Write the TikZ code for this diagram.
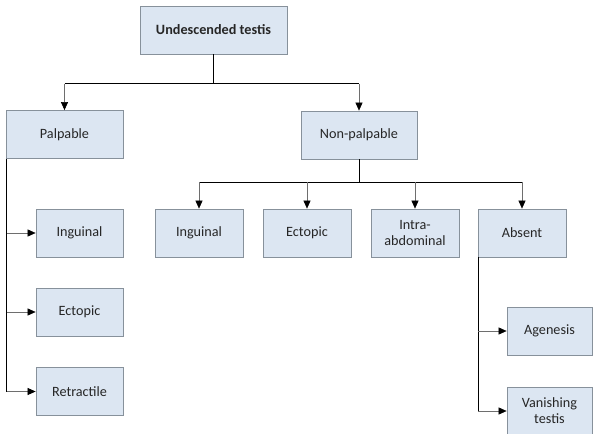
\documentclass[tikz,border=0pt]{standalone}
\usepackage{fontspec}
\setmainfont{Carlito}
\usetikzlibrary{arrows.meta,calc}
\definecolor{boxfill}{RGB}{220,230,242}
\definecolor{boxline}{RGB}{135,145,155}
\definecolor{stub}{RGB}{110,110,110}
\begin{document}
\begin{tikzpicture}[x=1pt,y=-1pt,
  box/.style={draw=boxline,fill=boxfill,line width=0.8pt,minimum height=48pt,
    align=center,inner sep=2pt,font=\fontsize{14.2}{16}\selectfont,text=black!85},
  trunk/.style={draw=black,line width=1pt},
  branch/.style={draw=stub,line width=0.6pt,-{Triangle[length=8pt,width=7pt,color=black]}}]
\useasboundingbox (0,0) rectangle (593,433);
% nodes
\node[box,minimum width=147pt,font=\fontsize{14.2}{16}\selectfont\bfseries] (top) at (213.5,30) {Undescended testis};
\node[box,minimum width=117pt] (palp) at (64.5,134.5) {Palpable};
\node[box,minimum width=116pt] (nonp) at (359,135) {Non-palpable};
\node[box,minimum width=87pt] (inguL) at (79.5,233) {Inguinal};
\node[box,minimum width=87pt] (ectL) at (79.5,312) {Ectopic};
\node[box,minimum width=87pt] (retr) at (79.5,391.5) {Retractile};
\node[box,minimum width=88pt] (inguM) at (199,233) {Inguinal};
\node[box,minimum width=88pt] (ectM) at (307,233) {Ectopic};
\node[box,minimum width=88pt] (intra) at (415,233) {Intra-\\abdominal};
\node[box,minimum width=88pt] (absent) at (522,233) {Absent};
\node[box,minimum width=85pt] (agen) at (549.5,331) {Agenesis};
\node[box,minimum width=85pt] (van) at (549.5,411) {Vanishing\\testis};
% junctions
\coordinate (j0) at (top.south |- 0,84);
\coordinate (jL) at (palp.north |- 0,84);
\coordinate (jR) at (nonp.north |- 0,84);
\coordinate (n0) at (nonp.south |- 0,182);
\coordinate (n1) at (inguM.north |- 0,182);
\coordinate (n4) at (absent.north |- 0,182);
\coordinate (pT) at ($(palp.south west)+(1,0)$);
\coordinate (pB) at (pT |- retr.west);
\coordinate (aT) at ($(absent.south west)+(0.5,0)$);
\coordinate (aB) at (aT |- van.west);
% top level
\draw[trunk] (top.south) -- (j0);
\draw[trunk] (jL) -- (jR);
\draw[branch] (jL) -- (palp.north);
\draw[branch] (jR) -- (nonp.north);
% palpable
\draw[trunk] (pT) -- (pB);
\draw[branch] (pT |- inguL.west) -- (inguL.west);
\draw[branch] (pT |- ectL.west) -- (ectL.west);
\draw[branch] (pB) -- (retr.west);
% non-palpable
\draw[trunk] (nonp.south) -- (n0);
\draw[trunk] (n1) -- (n4);
\draw[branch] (n1) -- (inguM.north);
\draw[branch] (n1 -| ectM.north) -- (ectM.north);
\draw[branch] (n1 -| intra.north) -- (intra.north);
\draw[branch] (n4) -- (absent.north);
% absent
\draw[trunk] (aT) -- (aB);
\draw[branch] (aT |- agen.west) -- (agen.west);
\draw[branch] (aB) -- (van.west);
\end{tikzpicture}
\end{document}
